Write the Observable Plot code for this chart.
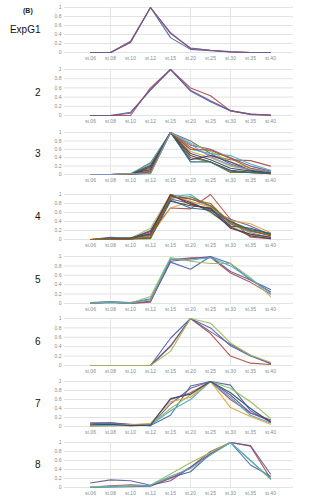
<!DOCTYPE html>
<html>
<head>
<meta charset="utf-8">
<script src="https://cdn.jsdelivr.net/npm/d3@7"></script>
<script src="https://cdn.jsdelivr.net/npm/@observablehq/plot@0.6"></script>
<style>
  html, body { margin: 0; padding: 0; background: #fff; }
  #wrap { position: relative; width: 326px; height: 500px; font-family: "Liberation Sans", Arial, sans-serif; }
  #tag { position: absolute; left: 23px; top: 7px; font-size: 7px; font-weight: bold; color: #222; }
</style>
</head>
<body>
<div id="wrap"><div id="tag">(B)</div></div>
<script>
const categories = ["st.06","st.08","st.10","st.12","st.15","st.20","st.25","st.30","st.35","st.40"];
const rowLabels = ["ExpG1","2","3","4","5","6","7","8"];
const yTicks = [0, 0.2, 0.4, 0.6, 0.8, 1];
const palette = ["#4A66A8","#B0504D","#6E5A94","#9BBB59","#4BACC6","#E8A040","#2C4D75","#772C2A","#5F7530","#4D3B62","#276A7C","#B65708","#729ACA","#CD7371"];

const exp1 = [
  [0,0,0.22,1,0.33,0.07,0.04,0.01,0,0],
  [0,0,0.25,1,0.42,0.1,0.05,0.01,0,0],
  [0,0,0.23,1,0.44,0.09,0.05,0.02,0,0]
];
const exp2 = [
  [0,0,0.07,0.55,1,0.53,0.3,0.1,0.02,0.01],
  [0,0,0,0.6,1,0.6,0.43,0.1,0.03,0],
  [0,0,0.05,0.57,1,0.55,0.32,0.11,0.03,0.01]
];
const exp3 = [
  [0,0,0.01,0.28,1,0.8,0.5,0.25,0.1,0.05],
  [0,0,0.01,0.15,1,0.65,0.45,0.35,0.33,0.2],
  [0,0,0,0.2,1,0.7,0.6,0.4,0.2,0.08],
  [0,0,0.02,0.25,1,0.75,0.55,0.3,0.15,0.05],
  [0,0,0,0.1,1,0.6,0.5,0.45,0.25,0.1],
  [0,0,0.02,0.05,1,0.55,0.4,0.2,0.1,0.05],
  [0,0,0,0.03,1,0.5,0.35,0.15,0.08,0.03],
  [0,0,0.01,0.12,1,0.45,0.3,0.1,0.05,0.02],
  [0,0,0,0.08,1,0.4,0.3,0.05,0.05,0.02],
  [0,0,0,0.18,1,0.35,0.45,0.3,0.1,0.04],
  [0,0,0.01,0.22,1,0.3,0.3,0.08,0.04,0.03],
  [0,0,0,0.06,1,0.6,0.58,0.38,0.15,0.06],
  [0,0,0.02,0.02,1,0.72,0.42,0.22,0.12,0.07]
];
const exp4 = [
  [0,0.01,0.01,0.05,1,0.9,0.75,0.4,0.2,0.1],
  [0,0,0,0.15,0.7,0.68,1,0.45,0.05,0.02],
  [0,0.05,0.02,0.2,0.9,0.8,0.65,0.45,0.3,0.1],
  [0,0,0.03,0.25,1,0.85,0.6,0.3,0.1,0.05],
  [0,0,0.02,0.1,0.95,1,0.7,0.35,0.15,0.05],
  [0,0.02,0.01,0.08,0.7,0.85,0.72,0.42,0.35,0.15],
  [0,0,0.02,0.03,0.85,0.75,0.7,0.3,0.25,0.12],
  [0,0.01,0.04,0.12,1,0.78,0.68,0.25,0.12,0.05],
  [0,0,0.01,0.02,0.92,0.95,0.75,0.38,0.2,0.08],
  [0,0,0.02,0.18,0.98,0.82,0.62,0.28,0.08,0.02],
  [0,0.03,0.03,0.1,0.88,0.7,0.65,0.4,0.22,0.14],
  [0,0,0.01,0.06,0.95,0.9,0.8,0.35,0.18,0.1]
];
const exp5 = [
  [0,0.02,0,0.05,0.88,0.73,1,0.85,0.5,0.3],
  [0,0.03,0,0.03,0.93,0.97,0.98,0.65,0.45,0.2],
  [0.02,0.04,0.02,0.1,0.9,0.95,1,0.68,0.5,0.25],
  [0.01,0.03,0.01,0.15,0.98,0.9,0.85,0.85,0.55,0.15],
  [0.01,0.02,0.01,0.08,0.95,0.92,0.98,0.8,0.52,0.22]
];
const exp6 = [
  [0,0,0,0,0.58,1,0.8,0.42,0.2,0.05],
  [0,0,0,0,0.4,1,0.68,0.2,0.05,0.02],
  [0,0,0,0,0.42,1,0.72,0.45,0.22,0.04],
  [0,0,0,0,0.3,1,0.9,0.48,0.22,0.07]
];
const exp7 = [
  [0.06,0.08,0.04,0.02,0.25,0.9,1,0.92,0.35,0.1],
  [0.02,0.02,0.03,0.05,0.6,0.75,1,0.6,0.3,0.15],
  [0.08,0.08,0.05,0.02,0.5,0.85,1,0.7,0.3,0.12],
  [0,0.02,0.02,0.04,0.4,0.7,1,0.85,0.55,0.18],
  [0.02,0.03,0.03,0.03,0.35,0.6,1,0.65,0.25,0.08],
  [0.03,0.05,0.04,0.07,0.55,0.65,1,0.42,0.22,0.05],
  [0.04,0.05,0.02,0.03,0.62,0.72,1,0.75,0.4,0.1]
];
const exp8 = [
  [0,0.01,0.02,0.03,0.22,0.35,0.75,1,0.5,0.25],
  [0.01,0.04,0.06,0.04,0.2,0.45,0.8,1,0.92,0.2],
  [0.1,0.17,0.15,0.05,0.15,0.45,0.75,1,0.93,0.3],
  [0.02,0.02,0.03,0.05,0.3,0.55,0.78,1,0.6,0.18],
  [0,0.02,0.04,0.05,0.25,0.42,0.72,1,0.6,0.2]
];
const experiments = [exp1, exp2, exp3, exp4, exp5, exp6, exp7, exp8];

// layout (pixel positions of the 1-line and 0-line of each panel)
const tops = [7, 69, 132, 194, 256, 318, 381, 442];
const bottoms = [52, 115, 174, 239, 303, 365, 426, 487];
const mt = 3, mb = 12;
const wrap = document.getElementById("wrap");

experiments.forEach((exp, i) => {
  const data = exp.flatMap((vals, s) => vals.map((v, k) => ({stage: categories[k], value: v, series: s})));
  const seriesIds = exp.map((_, s) => s);
  const h = bottoms[i] - tops[i] + mt + mb;
  const svg = Plot.plot({
    width: 326,
    height: h,
    marginTop: mt,
    marginBottom: mb,
    marginLeft: 64,
    marginRight: 33,
    style: {fontFamily: "'Liberation Sans', Arial, sans-serif", color: "#8a8a8a", background: "transparent", overflow: "visible"},
    x: {type: "point", domain: categories, range: [77, 283]},
    y: {domain: [0, 1]},
    color: {domain: seriesIds, range: palette.slice(0, seriesIds.length)},
    marks: [
      Plot.gridY(yTicks, {stroke: "#e2e2e2", strokeOpacity: 1}),
      Plot.ruleX(["st.08", "st.20", "st.30"], {stroke: "#e6e6e6", strokeWidth: 1}),
      Plot.axisY(yTicks, {tickSize: 0, tickPadding: 3, fontSize: 5, label: null, tickFormat: d => String(d)}),
      Plot.axisX({tickSize: 0, tickPadding: 3.5, fontSize: 5, label: null}),
      Plot.line(data, {x: "stage", y: "value", z: "series", stroke: "series", strokeWidth: 1.1, strokeOpacity: 0.95}),
      Plot.text([rowLabels[i]], {frameAnchor: "left", dx: -24, textAnchor: "end", fontSize: 10, fill: "#111"})
    ]
  });
  svg.style.position = "absolute";
  svg.style.left = "0px";
  svg.style.top = (tops[i] - mt) + "px";
  wrap.appendChild(svg);
});
</script>
</body>
</html>
